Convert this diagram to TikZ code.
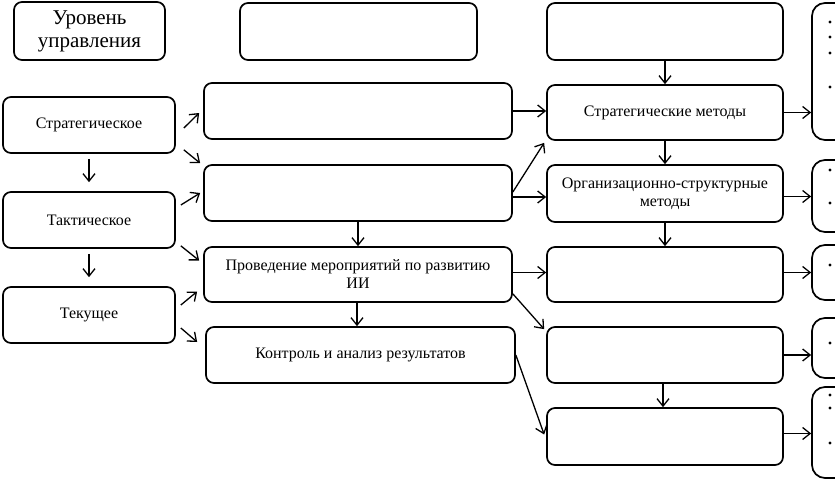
\documentclass[tikz,border=0pt]{standalone}
\usepackage{fontspec}
\setmainfont{Liberation Serif}
\usetikzlibrary{arrows.meta}
\begin{document}
\begin{tikzpicture}[x=1pt,y=-1pt, every node/.style={font=\fontsize{16}{18}\selectfont},
  box/.style={draw,line width=1.7pt,rounded corners=8pt,align=center,inner sep=2pt},
  list/.style={draw,line width=1.7pt,rounded corners=13pt,minimum width=58pt},
  arr/.style={-{Straight Barb[length=7.5pt,width=12pt]},line width=1.3pt}]
\useasboundingbox (0,0) rectangle (835,482);
\clip (0,0) rectangle (835,482);
\node[box,minimum width=151pt,minimum height=58pt,font=\fontsize{21}{23}\selectfont] (lvl) at (89.5,31) {Уровень\\управления};
\node[box,minimum width=172pt,minimum height=56pt] (strat) at (89,125) {Стратегическое};
\node[box,minimum width=172pt,minimum height=56pt] (tact) at (89,220) {Тактическое};
\node[box,minimum width=172pt,minimum height=56pt] (cur) at (89,315) {Текущее};
\node[box,minimum width=237pt,minimum height=57pt] (stagehd) at (358.5,31.5) {};
\node[box,minimum width=308pt,minimum height=56pt] (stage1) at (358,111) {};
\node[box,minimum width=308pt,minimum height=56pt] (stage2) at (358,193) {};
\node[box,minimum width=308pt,minimum height=55pt] (stage3) at (358,274.5) {Проведение мероприятий по развитию\\ИИ};
\node[box,minimum width=309pt,minimum height=56pt] (stage4) at (360.5,355) {Контроль и анализ результатов};
\node[box,minimum width=236pt,minimum height=57pt] (methhd) at (665,31.5) {};
\node[box,minimum width=236pt,minimum height=55pt] (m1) at (665,112.5) {Стратегические методы};
\node[box,minimum width=236pt,minimum height=57pt] (m2) at (665,193.5) {Организационно-структурные\\методы};
\node[box,minimum width=236pt,minimum height=55pt] (m3) at (665,274.5) {};
\node[box,minimum width=236pt,minimum height=56pt] (m4) at (665,355) {};
\node[box,minimum width=236pt,minimum height=57pt] (m5) at (665,436.5) {};
\node[list,minimum height=137pt] (b1) at (841,71.5) {};
\node[list,minimum height=72pt] (b2) at (841,196) {};
\node[list,minimum height=55pt] (b3) at (841,272.5) {};
\node[list,minimum height=60pt] (b4) at (841,348) {};
\node[list,minimum height=91pt] (b5) at (841,432.5) {};
\foreach \y in {22,37,53,87,170,203,265,343,395,408,443} {\fill (830,\y) circle (1.6pt);}
\draw[arr,shorten <=5pt,shorten >=9pt] (strat) -- (tact);
\draw[arr,shorten <=5pt,shorten >=9pt] (tact) -- (cur);
\draw[arr] ([xshift=8pt,yshift=-3pt]strat.east) -- ([xshift=-4pt,yshift=-2pt]stage1.west);
\draw[arr] ([xshift=8pt,yshift=4pt]strat.south east) -- ([xshift=-3pt,yshift=1pt]stage2.north west);
\draw[arr] ([xshift=5pt,yshift=15pt]tact.east) -- ([xshift=-3pt]stage2.west);
\draw[arr] ([xshift=5pt,yshift=3pt]tact.south east) -- ([xshift=-4pt,yshift=14pt]stage3.west);
\draw[arr] ([xshift=5pt,yshift=10pt]cur.east) -- ([xshift=-6pt,yshift=-17pt]stage3.west);
\draw[arr] ([xshift=5pt,yshift=-13pt]cur.east) -- ([xshift=-8pt,yshift=13pt]stage4.west);
\draw[arr] (stage2) -- (stage3);
\draw[arr] ([xshift=-1pt]stage3.south) -- ([xshift=-1pt]stage3.south |- stage4.north);
\draw[arr] (stage1.east) -- (stage1.east -| m1.west);
\draw[arr] ([yshift=1pt]stage2.east) -- ([xshift=-2pt,yshift=-2pt]m1.south west);
\draw[arr] ([yshift=-4pt]stage2.east) -- ([yshift=-4pt]stage2.east -| m2.west);
\draw[arr] ([yshift=2pt]stage3.east) -- ([yshift=2pt]stage3.east -| m3.west);
\draw[arr] ([yshift=9pt]stage3.south east) -- ([xshift=-2pt,yshift=-3pt]m4.north west);
\draw[arr] (stage4.east) -- ([xshift=-2pt,yshift=2pt]m5.west);
\draw[arr] (methhd) -- (m1);
\draw[arr] (m1) -- (m2);
\draw[arr] (m2) -- (m3);
\draw[arr] ([xshift=-2pt]m4.south) -- ([xshift=-2pt]m4.south |- m5.north);
\draw[arr] (m1.east) -- (m1.east -| b1.west);
\draw[arr] ([yshift=-3pt]m2.east) -- ([yshift=-3pt]m2.east -| b2.west);
\draw[arr] ([yshift=2pt]m3.east) -- ([yshift=2pt]m3.east -| b3.west);
\draw[arr] (m4.east) -- (m4.east -| b4.west);
\draw[arr] ([yshift=3pt]m5.east) -- ([yshift=3pt]m5.east -| b5.west);
\end{tikzpicture}
\end{document}
